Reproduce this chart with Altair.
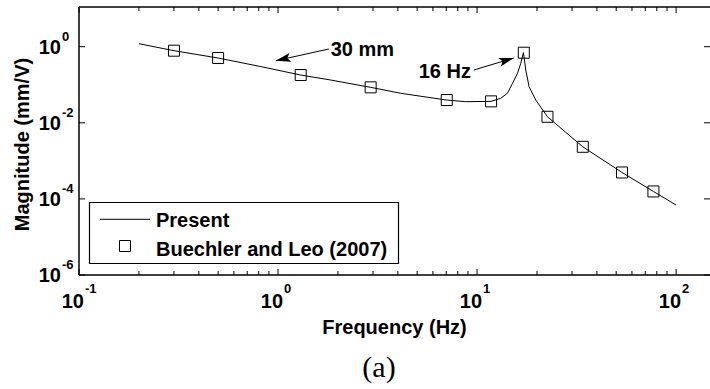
import altair as alt
import pandas as pd

# ---------------- data ----------------
present_freq = [0.2, 0.3, 0.5, 0.82, 1.3, 1.84, 2.92, 4.14, 7.04, 8.77, 11.76,
                13.15, 14.2, 15.07, 15.96, 16.58, 17.1, 17.57, 18.25, 19.72,
                22.58, 33.98, 53.5, 76.9, 100]
present_mag = [1.2, 0.785, 0.504, 0.30, 0.18, 0.133, 0.0855, 0.0596, 0.0396, 0.0359, 0.0366,
               0.044, 0.0596, 0.109, 0.2, 0.366, 0.70, 0.244, 0.0889, 0.0397,
               0.0144, 0.00234, 0.000495, 0.000157, 6.9e-5]

exp_freq = [0.3, 0.5, 1.3, 2.92, 7.04, 11.76, 17.17, 22.58, 33.98, 53.5, 76.9]
exp_mag = [0.785, 0.504, 0.18, 0.0855, 0.0396, 0.0366, 0.695, 0.0144, 0.00234, 0.000495, 0.000157]

x_major = [0.1, 1, 10, 100]
x_major_exp = ["-1", "0", "1", "2"]
x_minor = [0.2, 0.3, 0.4, 0.5, 0.6, 0.7, 0.8, 0.9,
           2, 3, 4, 5, 6, 7, 8, 9,
           20, 30, 40, 50, 60, 70, 80, 90]
y_major = [1, 0.01, 0.0001, 0.000001]
y_major_exp = ["0", "-2", "-4", "-6"]

legend_labels = ["Present", "Buechler and Leo (2007)"]

annot_text = ["30 mm", "16 Hz"]
annot_x = [1.84, 5.09]
annot_y = [0.82, 0.22]
arrow_x1 = [1.80, 9.63]
arrow_y1 = [0.87, 0.244]
arrow_x2 = [0.974, 15.3]
arrow_y2 = [0.428, 0.505]
arrow_angle = [167.5, 343.3]

x_title = "Frequency (Hz)"
y_title = "Magnitude (mm/V)"
panel_label = "(a)"

# ---------------- chart ----------------
W, H = 631, 268
FONT = "Liberation Sans"

xscale = alt.Scale(type="log", domain=[0.1, 148], nice=False)
yscale = alt.Scale(type="log", domain=[1e-6, 11.05], nice=False)

xaxis = alt.Axis(title=x_title, labels=False, ticks=False, domain=False, grid=False,
                 titleFont=FONT, titleFontSize=20, titleFontWeight="bold", titleColor="black",
                 titleX=315, titleY=58, titleAlign="center", titleBaseline="alphabetic")
yaxis = alt.Axis(title=y_title, labels=False, ticks=False, domain=False, grid=False,
                 titleFont=FONT, titleFontSize=20, titleFontWeight="bold", titleColor="black",
                 titleAngle=270, titleX=-51, titleY=137, titleAlign="center",
                 titleBaseline="alphabetic")


def X(field):
    return alt.X(f"{field}:Q", scale=xscale, axis=xaxis)


def Y(field):
    return alt.Y(f"{field}:Q", scale=yscale, axis=yaxis)


df_line = pd.DataFrame({"f": present_freq, "m": present_mag})
df_exp = pd.DataFrame({"f": exp_freq, "m": exp_mag})
df_xmaj = pd.DataFrame({"f": x_major, "e": x_major_exp})
df_xmin = pd.DataFrame({"f": x_minor})
df_ymaj = pd.DataFrame({"m": y_major, "e": y_major_exp})
df_annot = pd.DataFrame({"x": annot_x, "y": annot_y, "t": annot_text})
df_arrow = pd.DataFrame({"x1": arrow_x1, "y1": arrow_y1, "x2": arrow_x2, "y2": arrow_y2,
                         "a": arrow_angle})
one = pd.DataFrame({"k": [0]})

black = "black"

# ticks (inward)
xt_bot_maj = alt.Chart(df_xmaj).mark_rule(color=black, strokeWidth=1).encode(
    x=X("f"), y=alt.value(H), y2=alt.value(H - 6))
xt_top_maj = alt.Chart(df_xmaj).mark_rule(color=black, strokeWidth=1).encode(
    x=X("f"), y=alt.value(0), y2=alt.value(6))
xt_bot_min = alt.Chart(df_xmin).mark_rule(color=black, strokeWidth=1).encode(
    x=X("f"), y=alt.value(H), y2=alt.value(H - 4))
xt_top_min = alt.Chart(df_xmin).mark_rule(color=black, strokeWidth=1).encode(
    x=X("f"), y=alt.value(0), y2=alt.value(4))
yt_left = alt.Chart(df_ymaj).mark_rule(color=black, strokeWidth=1).encode(
    y=Y("m"), x=alt.value(0), x2=alt.value(6))
yt_right = alt.Chart(df_ymaj).mark_rule(color=black, strokeWidth=1).encode(
    y=Y("m"), x=alt.value(W), x2=alt.value(W - 6))

# borders
b_left = alt.Chart(one).mark_rule(color=black, strokeWidth=1.5).encode(
    x=alt.value(0), y=alt.value(0), y2=alt.value(H))
b_top = alt.Chart(one).mark_rule(color=black, strokeWidth=1.5).encode(
    x=alt.value(0), x2=alt.value(W), y=alt.value(0))
b_bot = alt.Chart(one).mark_rule(color=black, strokeWidth=1.5).encode(
    x=alt.value(0), x2=alt.value(W), y=alt.value(H))

# tick labels
xl_base = alt.Chart(df_xmaj).mark_text(text="10", align="right", baseline="middle", dx=5,
                                       font=FONT, fontSize=20, fontWeight="bold", color=black).encode(
    x=X("f"), y=alt.value(294.7))
xl_exp = alt.Chart(df_xmaj).mark_text(align="left", baseline="middle", dx=6,
                                      font=FONT, fontSize=13, fontWeight="bold", color=black).encode(
    x=X("f"), y=alt.value(282), text="e:N")
yl_base = alt.Chart(df_ymaj).mark_text(text="10", align="right", baseline="middle", dy=1,
                                       font=FONT, fontSize=20, fontWeight="bold", color=black).encode(
    x=alt.value(-18), y=Y("m"))
yl_exp = alt.Chart(df_ymaj).mark_text(align="left", baseline="middle", dy=-10,
                                      font=FONT, fontSize=13, fontWeight="bold", color=black).encode(
    x=alt.value(-17), y=Y("m"), text="e:N")

# data
line = alt.Chart(df_line).mark_line(color=black, strokeWidth=1).encode(x=X("f"), y=Y("m"))
pts = alt.Chart(df_exp).mark_point(shape="square", size=121, filled=False, color=black,
                                   strokeWidth=1, opacity=1).encode(x=X("f"), y=Y("m"))

# annotations
ann_text = alt.Chart(df_annot).mark_text(align="left", baseline="middle", font=FONT,
                                         fontSize=20, fontWeight="bold", color=black).encode(
    x=X("x"), y=Y("y"), text="t:N")
ann_shaft = alt.Chart(df_arrow).mark_rule(color=black, strokeWidth=1).encode(
    x=X("x1"), y=Y("y1"), x2="x2:Q", y2="y2:Q")
ann_head = alt.Chart(df_arrow).mark_point(
    shape="M0,0 L-1,-0.3 L-0.78,0 L-1,0.3 Z", size=900, filled=True, color=black,
    opacity=1, strokeWidth=0).encode(
    x=X("x2"), y=Y("y2"), angle=alt.Angle("a:Q", scale=None))

# legend
leg_box = alt.Chart(one).mark_rect(fill="white", stroke=black, strokeWidth=1.2).encode(
    x=alt.value(10.5), x2=alt.value(319.5), y=alt.value(195.5), y2=alt.value(256.5))
leg_line = alt.Chart(one).mark_rule(color=black, strokeWidth=1).encode(
    x=alt.value(21), x2=alt.value(71), y=alt.value(212.3))
leg_pt = alt.Chart(one).mark_point(shape="square", size=121, filled=False, color=black,
                                   strokeWidth=1, opacity=1).encode(
    x=alt.value(46), y=alt.value(239))
leg_t1 = alt.Chart(one).mark_text(text=legend_labels[0], align="left", baseline="middle",
                                  font=FONT, fontSize=20, fontWeight="bold", color=black).encode(
    x=alt.value(77), y=alt.value(214.3))
leg_t2 = alt.Chart(one).mark_text(text=legend_labels[1], align="left", baseline="middle",
                                  font=FONT, fontSize=20, fontWeight="bold", color=black).encode(
    x=alt.value(77), y=alt.value(243))

panel = alt.Chart(one).mark_text(text=panel_label, align="center", baseline="middle",
                                 font="Liberation Serif", fontSize=30, color=black).encode(
    x=alt.value(300), y=alt.value(361))

chart = alt.layer(
    line, pts,
    xt_bot_maj, xt_top_maj, xt_bot_min, xt_top_min, yt_left, yt_right,
    b_left, b_top, b_bot,
    xl_base, xl_exp, yl_base, yl_exp,
    ann_shaft, ann_head, ann_text,
    leg_box, leg_line, leg_pt, leg_t1, leg_t2,
    panel,
).properties(
    width=W, height=H,
    autosize=alt.AutoSizeParams(type="none"),
    padding={"left": 79, "top": 7, "right": 0, "bottom": 114},
    background="white",
).configure_view(stroke=None)

chart.save("out.html", embed_options={"renderer": "svg", "actions": False})
